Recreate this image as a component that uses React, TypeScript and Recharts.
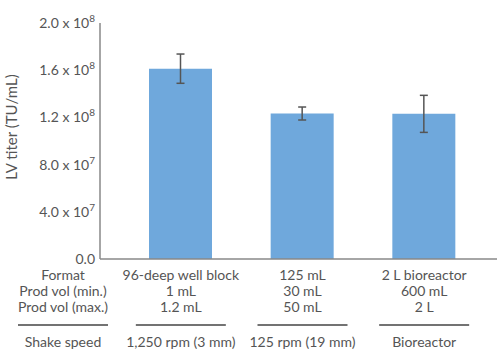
import React from 'react';
import { BarChart, Bar, XAxis, YAxis, ErrorBar } from 'recharts';

const formats = ['96-deep well block', '125 mL', '2 L bioreactor'];
const minVols = ['1 mL', '30 mL', '600 mL'];
const maxVols = ['1.2 mL', '50 mL', '2 L'];
const shakeSpeeds = ['1,250 rpm (3 mm)', '125 rpm (19 mm)', 'Bioreactor'];
const titers = [1.613e8, 1.233e8, 1.23e8];
const titerErrors = [0.124e8, 0.055e8, 0.157e8];
const yTicks = [0, 4e7, 8e7, 1.2e8, 1.6e8, 2e8];
const rowHeaders = ['Format', 'Prod vol (min.)', 'Prod vol (max.)'];
const speedHeader = 'Shake speed';
const yTitle = 'LV titer (TU/mL)';

const data = formats.map((f, i) => ({
  format: f,
  titer: titers[i],
  err: titerErrors[i],
}));

const textColor = '#555555';
const fontFamily = 'Lato, "Open Sans", sans-serif';

const YTick = (props: any) => {
  const { x, y, payload } = props;
  const v = payload.value as number;
  if (v === 0) {
    return (
      <text x={x - 5} y={y} dy="0.35em" textAnchor="end" fill={textColor} fontSize={14} fontFamily={fontFamily}>
        0.0
      </text>
    );
  }
  const exp = Math.floor(Math.log10(v));
  const mant = (v / Math.pow(10, exp)).toFixed(1);
  return (
    <text x={x - 5} y={y} dy="0.35em" textAnchor="end" fill={textColor} fontSize={14} fontFamily={fontFamily}>
      {`${mant} x 10`}
      <tspan dy={-6} fontSize={10}>{exp}</tspan>
    </text>
  );
};

const YTitle = () => (
  <text
    x={12}
    y={127}
    transform="rotate(-90, 12, 127)"
    dy="0.35em"
    textAnchor="middle"
    fill={textColor}
    fontSize={15}
    fontFamily={fontFamily}
  >
    {yTitle}
  </text>
);

const XTick = (props: any) => {
  const { x, y, index } = props;
  const rows = [formats[index], minVols[index], maxVols[index]];
  const common = { fill: textColor, fontSize: 14, fontFamily, textAnchor: 'middle' as const };
  return (
    <g>
      {index === 0 && (
        <g>
          {rowHeaders.map((h, i) => (
            <text key={h} x={63} y={y + 21 + i * 16} {...common}>{h}</text>
          ))}
          <line x1={18} x2={108} y1={y + 66} y2={y + 66} stroke="#444" strokeWidth={1.5} />
          <text x={63} y={y + 88} {...common}>{speedHeader}</text>
        </g>
      )}
      {rows.map((r, i) => (
        <text key={i} x={x} y={y + 21 + i * 16} {...common}>{r}</text>
      ))}
      <line x1={x - 45} x2={x + 45} y1={y + 66} y2={y + 66} stroke="#444" strokeWidth={1.5} />
      <text x={x} y={y + 88} {...common}>{shakeSpeeds[index]}</text>
    </g>
  );
};

export default function App() {
  return (
    <div style={{ position: 'absolute', left: 0, top: 0, width: 500, height: 361, background: '#fff' }}>
      <BarChart width={500} height={361} data={data} margin={{ top: 23, right: 3, bottom: 0, left: 0 }}>
        <XAxis
          dataKey="format"
          height={102}
          tickLine={false}
          tickSize={0}
          tickMargin={0}
          axisLine={{ stroke: '#888888', strokeWidth: 1.5 }}
          padding={{ left: 20, right: 12 }}
          tick={<XTick />}
          interval={0}
        />
        <YAxis
          width={100}
          domain={[0, 2e8]}
          ticks={yTicks}
          tickLine={false}
          tickSize={0}
          tickMargin={0}
          axisLine={{ stroke: '#888888', strokeWidth: 1.5 }}
          tick={<YTick />}
          label={{ content: <YTitle /> }}
        />
        <Bar dataKey="titer" fill="#6fa8dc" barSize={63} isAnimationActive={false}>
          <ErrorBar dataKey="err" width={4} stroke="#555555" strokeWidth={1.5} direction="y" />
        </Bar>
      </BarChart>
    </div>
  );
}
